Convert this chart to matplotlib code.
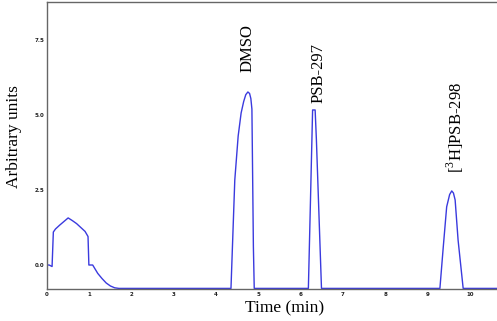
import matplotlib as mpl
mpl.use("Agg")
import matplotlib.pyplot as plt

# Chromatogram trace (time in min, signal in arbitrary units)
TIME = [0.00, 0.05, 0.12, 0.15, 0.20, 0.30, 0.40, 0.50, 0.60, 0.70, 0.80, 0.90,
        0.97, 0.99, 1.08, 1.20, 1.30, 1.40, 1.50, 1.60, 1.70,
        4.35, 4.44, 4.52, 4.59, 4.65, 4.70, 4.75, 4.79, 4.82, 4.845, 4.855, 4.88, 4.90,
        6.18, 6.23, 6.28, 6.34, 6.37, 6.49,
        9.29, 9.37, 9.45, 9.52, 9.57, 9.61, 9.65, 9.72, 9.84, 10.64]
SIGNAL = [0.00, 0.00, -0.05, 1.10, 1.20, 1.33, 1.45, 1.57, 1.48, 1.38, 1.25, 1.12,
          0.95, 0.00, 0.00, -0.28, -0.45, -0.60, -0.70, -0.76, -0.78,
          -0.78, 2.83, 4.30, 5.07, 5.45, 5.68, 5.77, 5.72, 5.55, 5.20, 3.90, 0.60, -0.78,
          -0.78, 2.17, 5.17, 5.17, 4.17, -0.78,
          -0.78, 0.61, 1.94, 2.35, 2.47, 2.40, 2.17, 0.83, -0.78, -0.78]

XTICKS = list(range(0, 11))
YTICKS = [0.0, 2.5, 5.0, 7.5]

PEAK_LABELS = ["DMSO", "PSB-297", r"[$^{3}$H]PSB-298"]
LABEL_X = [4.73, 6.41, 9.65]
LABEL_Y = [6.43, 5.40, 3.07]

mpl.rcParams["mathtext.fontset"] = "custom"
mpl.rcParams["mathtext.rm"] = "Liberation Serif"

fig = plt.figure(figsize=(4.97, 3.21), dpi=100)
ax = fig.add_axes((47 / 497, 32 / 321, 1.0 - 47 / 497, 287 / 321))

ax.plot(TIME, SIGNAL, color="#3a3ade", lw=1.0, solid_joinstyle="round")

ax.set_xlim(0, 10.64)
ax.set_ylim(-0.8, 8.77)
ax.set_xticks(XTICKS)
ax.set_xticklabels([str(t) for t in XTICKS])
ax.set_yticks(YTICKS)
ax.set_yticklabels(["%.1f" % v for v in YTICKS])
ax.tick_params(length=0, labelsize=4, colors="#222222", pad=2)
for lab in ax.get_xticklabels() + ax.get_yticklabels():
    lab.set_fontweight("bold")

for side in ["left", "bottom", "top"]:
    ax.spines[side].set_color("#666666")
    ax.spines[side].set_linewidth(1.0)
ax.spines["right"].set_visible(False)

for text, x, y in zip(PEAK_LABELS, LABEL_X, LABEL_Y):
    ax.text(x, y, text, rotation=90, ha="center", va="bottom",
            fontsize=12, family="Liberation Serif")

fig.text(285 / 497, 13 / 321, "Time (min)", ha="center", va="center",
         fontsize=12.5, family="Liberation Serif")
fig.text(14 / 497, 184 / 321, "Arbitrary units", rotation=90, ha="center",
         va="center", fontsize=12.5, family="Liberation Serif")

fig.savefig("out.png", dpi=100)
